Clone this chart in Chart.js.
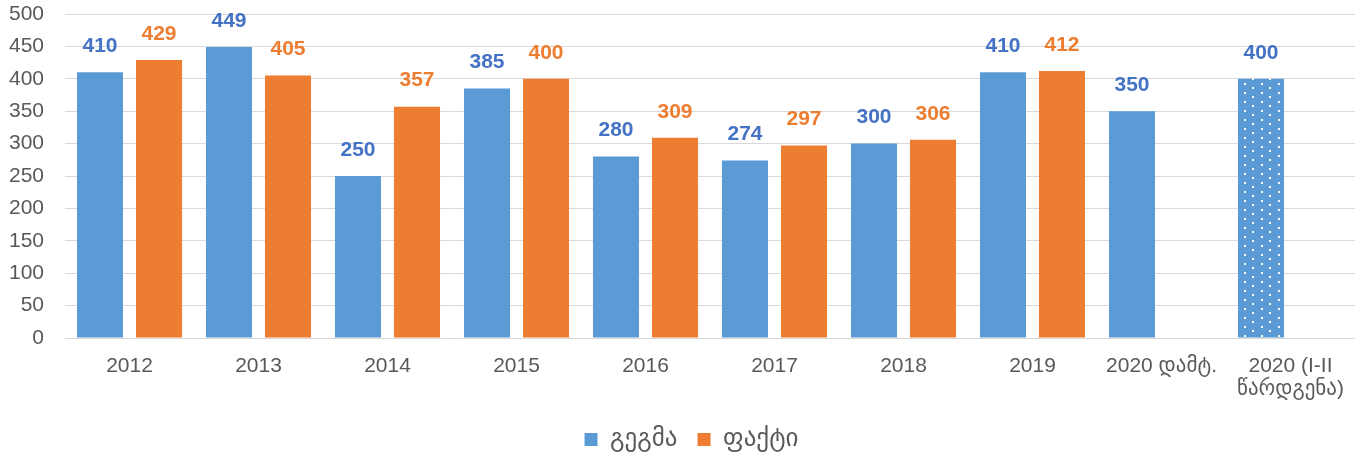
<!DOCTYPE html>
<html>
<head>
<meta charset="utf-8">
<script src="https://cdn.jsdelivr.net/npm/chart.js@4"></script>
<style>
  body { margin: 0; background: #fff; }
  #wrap { width: 1355px; height: 457px; position: relative; }
</style>
</head>
<body>
<div id="wrap"><canvas id="myChart"></canvas></div>
<script>
const labels = ['2012', '2013', '2014', '2015', '2016', '2017', '2018', '2019', '2020 დამტ.', ['2020 (I-II', 'წარდგენა)']];

// plan / fact values
const plan = [410, 449, 250, 385, 280, 274, 300, 410, 350, 400];
const fact = [429, 405, 357, 400, 309, 297, 306, 412, null, null];

const BLUE = '#5B9BD5';
const ORANGE = '#ED7D31';
const TEXT = '#595959';
const FONT = "'Liberation Sans', Arial, 'DejaVu Sans', sans-serif";

// dotted fill for the last bar
function dots() {
  const c = document.createElement('canvas');
  c.width = 17; c.height = 9;
  const g = c.getContext('2d');
  g.fillStyle = BLUE;
  g.fillRect(0, 0, 17, 9);
  g.fillStyle = '#fff';
  g.fillRect(3, 2, 2, 2);
  g.fillRect(11, 6, 2, 2);
  return g.createPattern(c, 'repeat');
}

const planColors = plan.map((v, i) => i === plan.length - 1 ? dots() : BLUE);

const valueLabels = {
  id: 'valueLabels',
  afterDatasetsDraw(chart) {
    const ctx = chart.ctx;
    ctx.save();
    ctx.font = "bold 21px " + FONT;
    ctx.textAlign = 'center';
    ctx.textBaseline = 'middle';
    chart.data.datasets.forEach((ds, di) => {
      const meta = chart.getDatasetMeta(di);
      ctx.fillStyle = di === 0 ? '#4472C4' : ORANGE;
      meta.data.forEach((bar, i) => {
        const v = ds.data[i];
        if (v == null) return;
        ctx.fillText(String(v), bar.x, bar.y - 26);
      });
    });
    ctx.restore();
  }
};

// nudge the legend a bit right, like the original (centred on the plot)
const legendShift = {
  id: 'legendShift',
  afterLayout(chart) {
    if (!chart.legend) return;
    chart.legend.left += 14;
    chart.legend.right += 14;
  }
};

const data = {
  labels: labels,
  datasets: [{
    label: 'გეგმა',
    backgroundColor: planColors,
    data: plan,
  }, {
    label: 'ფაქტი',
    backgroundColor: ORANGE,
    data: fact,
  }]
};

const config = {
  type: 'bar',
  data,
  plugins: [valueLabels, legendShift],
  options: {
    responsive: true,
    maintainAspectRatio: false,
    animation: false,
    datasets: {
      bar: { categoryPercentage: 0.915, barPercentage: 0.78 }
    },
    layout: { padding: { top: 14, right: 0, left: 0, bottom: 0 } },
    scales: {
      x: {
        afterFit(scale) {
          scale.height = 69;
          scale.paddingLeft = 0;
          scale.paddingRight = 0;
        },
        grid: { display: false, drawTicks: false },
        border: { display: true, color: '#D9D9D9', width: 1 },
        ticks: {
          color: TEXT,
          font: { family: FONT, size: 21, lineHeight: 1.1 },
          padding: 17,
          maxRotation: 0,
          autoSkip: false
        }
      },
      y: {
        min: 0,
        max: 500,
        afterFit(scale) {
          scale.width = 65;
          scale.paddingTop = 0;
        },
        grid: { color: '#D9D9D9', lineWidth: 1, drawTicks: false },
        border: { display: false },
        ticks: {
          stepSize: 50,
          color: TEXT,
          font: { family: FONT, size: 21 },
          padding: 21
        }
      }
    },
    plugins: {
      legend: {
        position: 'bottom',
        maxHeight: 50,
        labels: {
          color: TEXT,
          font: { family: FONT, size: 25 },
          boxWidth: 13,
          boxHeight: 13,
          padding: 20
        }
      },
      tooltip: { enabled: false }
    }
  }
};

var myChart = new Chart(document.getElementById('myChart'), config);
</script>
</body>
</html>
